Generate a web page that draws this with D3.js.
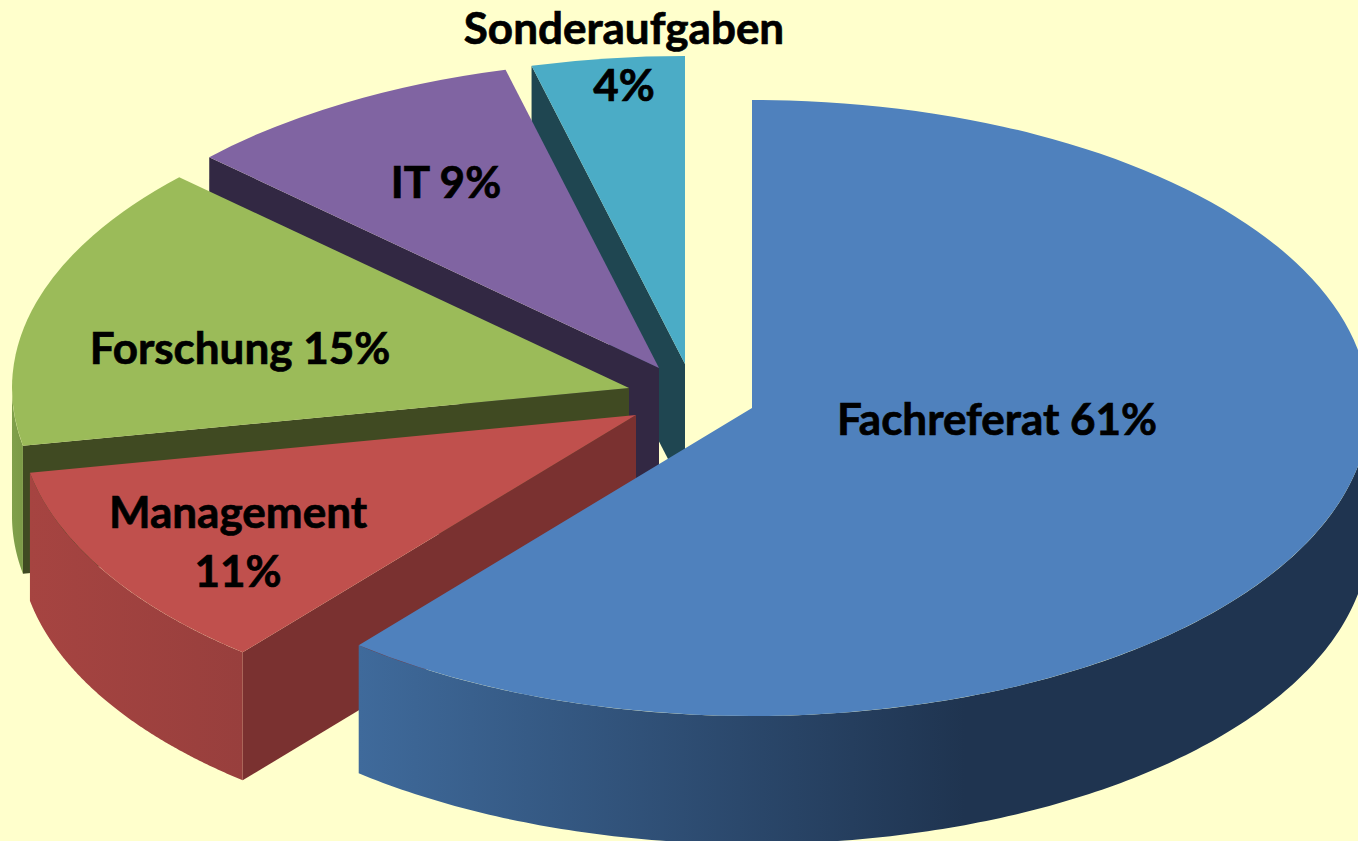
<!DOCTYPE html>
<html lang="de">
<head>
<meta charset="utf-8">
<title>Aufgabenverteilung</title>
<script src="https://cdn.jsdelivr.net/npm/d3@7/dist/d3.min.js"></script>
<style>
html,body{margin:0;padding:0;background:#FFFFCC;overflow:hidden}
svg{display:block}
text{font-family:Lato,"Open Sans","Noto Sans",sans-serif;font-weight:700;fill:#000;stroke:#000;stroke-width:0.7px;text-anchor:middle}
</style>
</head>
<body>
<svg id="chart" width="1358" height="841"></svg>
<script>
// Data
const categories = ["Fachreferat", "Management", "Forschung", "IT", "Sonderaufgaben"];
const shares = [61, 11, 15, 9, 4];

// Styling
const topColors = ["#4F81BD", "#C0504D", "#9BBB59", "#8064A2", "#4BACC6"];
const faceColors = ["#1F3450", "#7A3130", "#404A22", "#322843", "#1F4651"];
const wallStops = [
  [["#3F6A9B", 0], ["#1F3450", 0.6]],
  [["#A64441", 0], ["#983F3D", 1]],
  [["#80A04A", 0], ["#7C9A47", 1]],
  [["#322843", 0], ["#322843", 1]],
  [["#1F4651", 0], ["#1F4651", 1]]
];

// Layout: exploded apex of every slice
const apexX = [752, 636, 629, 659, 685];
const apexY = [408, 415, 388, 368, 364];
const rx = 617, ry = 308, depth = 128;
const fontSize = 44;
const labelRows = [
  {slice: 0, lines: [d => `${d.cat} ${d.val}%`], x: 997, y: [435]},
  {slice: 1, lines: [d => d.cat, d => `${d.val}%`], x: 238, y: [528, 587]},
  {slice: 2, lines: [d => `${d.cat} ${d.val}%`], x: 240, y: [364]},
  {slice: 3, lines: [d => `${d.cat} ${d.val}%`], x: 446, y: [198]},
  {slice: 4, lines: [d => d.cat, d => `${d.val}%`], x: 624, y: [44, 101]}
];

const svg = d3.select("#chart");
svg.append("rect").attr("width", 1358).attr("height", 841).attr("fill", "#FFFFCC");
const defs = svg.append("defs");

const pie = d3.pie().sort(null).value(d => d)(shares);
const arc = d3.arc().innerRadius(0).outerRadius(rx);
const line = d3.line();
const px = (i, a) => apexX[i] + rx * Math.sin(a);
const py = (i, a) => apexY[i] - ry * Math.cos(a);

// Back to front: last slice first
d3.range(pie.length - 1, -1, -1).forEach(i => {
  const p = pie[i];
  const g = svg.append("g").attr("class", "slice").attr("data-name", categories[i]);

  // Cut face along the slice's starting edge
  const sx = px(i, p.startAngle), sy = py(i, p.startAngle);
  g.append("path")
    .attr("d", line([[apexX[i], apexY[i]], [sx, sy], [sx, sy + depth], [apexX[i], apexY[i] + depth]]) + "Z")
    .attr("fill", faceColors[i]);

  // Outer wall: only the part on the near half of the ellipse
  const a0 = Math.max(p.startAngle, Math.PI / 2);
  const a1 = Math.min(p.endAngle, 3 * Math.PI / 2);
  if (a1 > a0) {
    const angles = d3.range(0, 181).map(k => a0 + (a1 - a0) * k / 180);
    const upper = angles.map(a => [px(i, a), py(i, a)]);
    const lower = angles.slice().reverse().map(a => [px(i, a), py(i, a) + depth]);
    const xs = upper.map(q => q[0]);
    const gid = "wall" + i;
    const grad = defs.append("linearGradient").attr("id", gid)
      .attr("gradientUnits", "userSpaceOnUse")
      .attr("x1", d3.min(xs)).attr("x2", d3.max(xs)).attr("y1", 0).attr("y2", 0);
    grad.selectAll("stop").data(wallStops[i]).join("stop")
      .attr("offset", d => d[1]).attr("stop-color", d => d[0]);
    g.append("path")
      .attr("d", line(upper.concat(lower)) + "Z")
      .attr("fill", `url(#${gid})`);
  }

  // Top surface
  g.append("path")
    .attr("transform", `translate(${apexX[i]},${apexY[i]}) scale(1,${ry / rx})`)
    .attr("d", arc(p))
    .attr("fill", topColors[i]);
});

// Labels
const labels = svg.append("g");
labelRows.forEach(r => {
  const d = {cat: categories[r.slice], val: shares[r.slice]};
  r.lines.forEach((fn, k) => {
    labels.append("text").attr("x", r.x).attr("y", r.y[k]).attr("font-size", fontSize).text(fn(d));
  });
});
</script>
</body>
</html>
